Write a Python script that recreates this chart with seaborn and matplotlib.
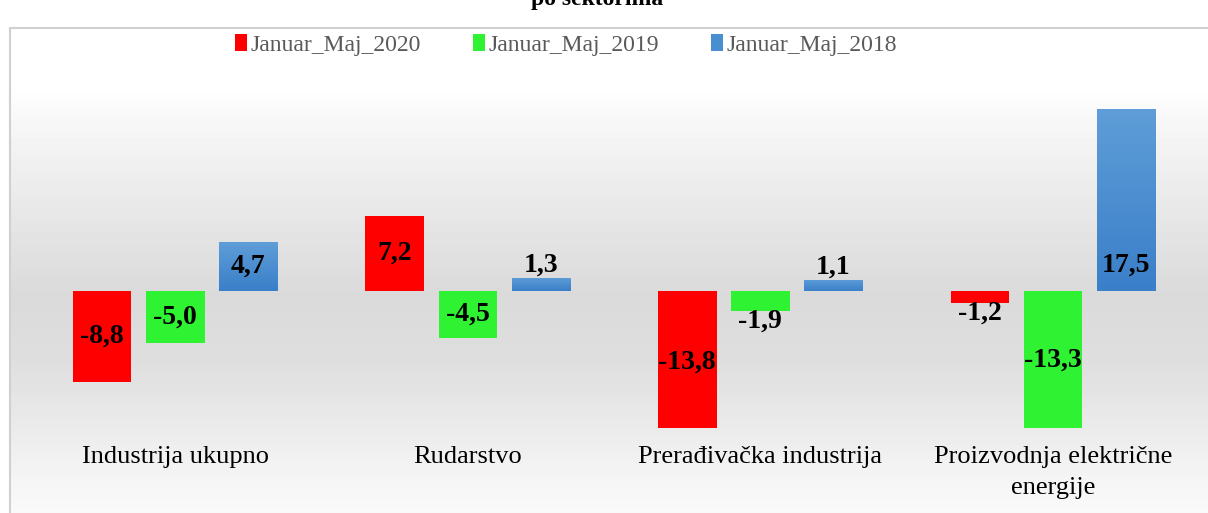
import numpy as np
import pandas as pd
import matplotlib
matplotlib.use("Agg")
import matplotlib.pyplot as plt
from matplotlib.lines import Line2D
import seaborn as sns

# Podaci
sektori = ["Industrija ukupno", "Rudarstvo", "Prerađivačka industrija",
           "Proizvodnja električne\nenergije"]
periodi = ["Januar_Maj_2020", "Januar_Maj_2019", "Januar_Maj_2018"]
jan_maj_2020 = [-8.8, 7.2, -13.8, -1.2]
jan_maj_2019 = [-5.0, -4.5, -1.9, -13.3]
jan_maj_2018 = [4.7, 1.3, 1.1, 17.5]
naslov = "po sektorima"

# polozaj oznaka vrijednosti (kao u Excelu)
polozaj = {
    "Januar_Maj_2020": ["c", "c", "c", "out"],
    "Januar_Maj_2019": ["c", "c", "out", "c"],
    "Januar_Maj_2018": ["c", "out", "out", "base"],
}

df = pd.DataFrame({
    "sektor": sektori * 3,
    "period": np.repeat(periodi, 4),
    "vrijednost": jan_maj_2020 + jan_maj_2019 + jan_maj_2018,
})

boje = {"Januar_Maj_2020": "#ff0000", "Januar_Maj_2019": "#2ef232",
        "Januar_Maj_2018": "#4a8ed2"}

sns.set_theme(style="white")
plt.rcParams["font.family"] = ["Liberation Serif", "DejaVu Serif"]

W, H = 1208, 513
fig = plt.figure(figsize=(W / 100, H / 100), dpi=100)

# pozadina sa gradijentom
bg = fig.add_axes([10 / W, 0, 1 - 10 / W, (H - 28) / H], zorder=0)
stops_y = [0, 60, 90, 180, 265, 330, 400, 450, 485]
stops_v = [1.0, 1.0, 0.97, 0.91, 0.855, 0.87, 0.92, 0.96, 0.975]
yy = np.arange(H - 28)
grad = np.interp(yy, stops_y, stops_v)
bg.imshow(np.repeat(grad[:, None], 2, axis=1), cmap="gray", vmin=0, vmax=1,
          aspect="auto", extent=(0, 1, 0, 1))
bg.set_axis_off()

ax = fig.add_axes([10 / W, (H - 428) / H, 1 - 10 / W, (428 - 80) / H], zorder=1)
ax.patch.set_alpha(0)

sns.barplot(data=df, x="sektor", y="vrijednost", hue="period", palette=boje,
            width=0.75, gap=0.2, ax=ax, saturation=1, legend=True,
            linewidth=0, edgecolor="none")

# gradijent na plavim stupcima
plavi = ax.containers[2]
cm_blue = matplotlib.colors.LinearSegmentedColormap.from_list("b", ["#3a7fc9", "#5e9dd7"])
for bar in plavi:
    x0, y0 = bar.get_x(), bar.get_y()
    w, h = bar.get_width(), bar.get_height()
    im = ax.imshow(np.linspace(0, 1, 50)[:, None], cmap=cm_blue, aspect="auto",
                   origin="lower", extent=(x0, x0 + w, y0, y0 + h), zorder=bar.get_zorder())
    im.set_clip_path(bar)
ax.set_xlim(-0.565, 3.53)
ax.set_ylim(-13.2, 20.33)

# oznake vrijednosti
for cont, period in zip(ax.containers, periodi):
    for bar, mode in zip(cont, polozaj[period]):
        val = bar.get_height() if bar.get_y() == 0 else bar.get_y()
        if bar.get_height() < 0:
            val = bar.get_height()
        cx = bar.get_x() + bar.get_width() / 2
        txt = f"{val:.1f}".replace(".", ",")
        if mode == "c":
            ax.text(cx, val / 2, txt, ha="center", va="center", fontsize=20,
                    fontweight="bold", color="black", zorder=5)
        elif mode == "out":
            off = 12 if val > 0 else -10
            ax.annotate(txt, (cx, val), xytext=(0, off), textcoords="offset pixels",
                        ha="center", va="center", fontsize=20, fontweight="bold",
                        color="black", zorder=5)
        else:
            ax.annotate(txt, (cx, 0), xytext=(0, 26), textcoords="offset pixels",
                        ha="center", va="center", fontsize=20, fontweight="bold",
                        color="black", zorder=5)

for s in ax.spines.values():
    s.set_visible(False)
ax.set_yticks([])
ax.set_xlabel("")
ax.set_ylabel("")
ax.tick_params(axis="x", length=0, pad=13, labelsize=19, labelcolor="black")
for t in ax.get_xticklabels():
    t.set_linespacing(1.55)
    t.set_verticalalignment("top")

sns.move_legend(ax, "center", bbox_to_anchor=(566 / W, 1 - 45 / H),
                bbox_transform=fig.transFigure, ncol=3, frameon=False, title=None,
                fontsize=17, handlelength=0.5, handleheight=0.75,
                handletextpad=0.15, columnspacing=2.2, labelcolor="#595959")

# okvir grafikona
fig.add_artist(Line2D([10 / W, 10 / W], [0, 1 - 28 / H], color="#d0d0d0", lw=1.5,
                      transform=fig.transFigure))
fig.add_artist(Line2D([10 / W, 1], [1 - 28 / H, 1 - 28 / H], color="#d0d0d0", lw=1.5,
                      transform=fig.transFigure))

fig.text(597 / W, 1 - 5 / H, naslov, ha="center", va="baseline", fontsize=17,
         fontweight="bold", color="black")

fig.savefig("out.png", dpi=100)
